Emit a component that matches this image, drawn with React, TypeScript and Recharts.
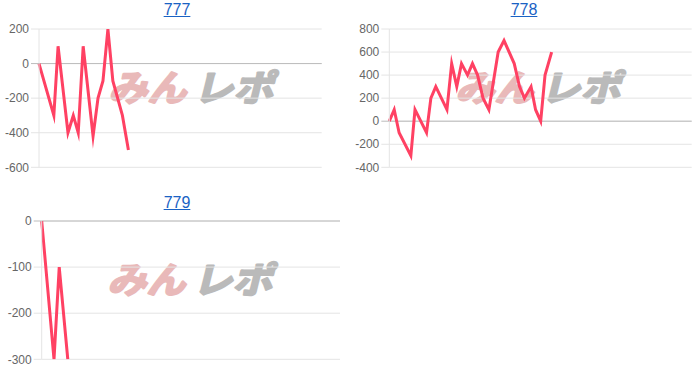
import React from "react";
import { LineChart, Line, XAxis, YAxis, CartesianGrid, ReferenceLine } from "recharts";

// ---- data ----
const titles = ["777", "778", "779"];

const games777 = [0, 420, 540, 820, 970, 1110, 1250, 1530, 1670, 1810, 1950, 2090, 2360, 2530];
const diff777 = [0, -300, 100, -400, -300, -400, 100, -420, -200, -100, 200, -100, -300, -500];

const games778 = [0, 130, 260, 570, 680, 985, 1100, 1230, 1525, 1650, 1785, 1910, 2070, 2200, 2335, 2480, 2635, 2880, 3035, 3305, 3445, 3575, 3750, 3870, 4005, 4120, 4295];
const diff778 = [0, 100, -100, -300, 100, -100, 200, 300, 100, 500, 300, 500, 400, 500, 400, 200, 100, 600, 700, 500, 300, 200, 300, 100, 0, 400, 600];

const games779 = [0, 330, 470, 700];
const diff779 = [0, -300, -100, -300];

const ticks777 = [-600, -400, -200, 0, 200];
const ticks778 = [-400, -200, 0, 200, 400, 600, 800];
const ticks779 = [-300, -200, -100, 0];

const xDomain = [0, 8000];

// ---- styles ----
const LINE = "#ff4163";
const GRID = "#e4e4e4";
const ZERO = "#bcbcbc";
const FONT = "Arial, 'Liberation Sans', sans-serif";

const build = (g: number[], v: number[]) => g.map((x, i) => ({ g: x, v: v[i] }));

const Tick = (props: any) => {
  const { x, y, payload } = props;
  const zero = payload.value === 0;
  return (
    <g>
      <line x1={x + 2} x2={x + 10} y1={y} y2={y} stroke={zero ? ZERO : GRID} />
      <text x={x} y={y} dy="0.35em" textAnchor="end" fontSize={12} fill="#666" fontFamily={FONT}>
        {payload.value}
      </text>
    </g>
  );
};

const Watermark = ({ left, top }: { left: number; top: number }) => (
  <svg
    width={175}
    height={34}
    style={{ position: "absolute", left, top, overflow: "visible" }}
  >
    <g transform="skewX(-14)">
      <text
        x={8}
        y={30}
        fontSize={36}
        fontWeight={700}
        fontFamily="'Noto Sans CJK JP', sans-serif"
        fill="#e9b9b9"
        stroke="#e9b9b9"
        strokeWidth={2.2}
        strokeLinejoin="round"
        textLength={78}
        lengthAdjust="spacingAndGlyphs"
      >
        みん
      </text>
      <text
        x={93}
        y={30}
        fontSize={36}
        fontWeight={700}
        fontFamily="'Noto Sans CJK JP', sans-serif"
        fill="#bababa"
        stroke="#bababa"
        strokeWidth={2.2}
        strokeLinejoin="round"
        textLength={80}
        lengthAdjust="spacingAndGlyphs"
      >
        レポ
      </text>
    </g>
  </svg>
);

const Title = ({ text, cx, top }: { text: string; cx: number; top: number }) => (
  <div
    style={{
      position: "absolute",
      left: cx - 50,
      top,
      width: 100,
      textAlign: "center",
      fontFamily: FONT,
      fontSize: 16,
      lineHeight: "18px",
    }}
  >
    <a href="#" style={{ color: "#1a62c4", textDecoration: "underline" }}>
      {text}
    </a>
  </div>
);

type ChartProps = {
  left: number;
  top: number;
  width: number;
  axisWidth: number;
  marginRight: number;
  data: { g: number; v: number }[];
  ticks: number[];
};

const Chart = ({ left, top, width, axisWidth, marginRight, data, ticks }: ChartProps) => (
  <div style={{ position: "absolute", left, top }}>
    <LineChart
      width={width}
      height={180}
      data={data}
      margin={{ top: 29, right: marginRight, bottom: 12.7, left: 0 }}
    >
      <CartesianGrid vertical={false} stroke={GRID} />
      <XAxis type="number" dataKey="g" domain={xDomain} hide />
      <YAxis
        width={axisWidth}
        domain={[ticks[0], ticks[ticks.length - 1]]}
        ticks={ticks}
        interval={0}
        allowDataOverflow
        axisLine={{ stroke: GRID }}
        tickLine={false}
        tickSize={8}
        tickMargin={2}
        tick={<Tick />}
      />
      <ReferenceLine y={0} stroke={ZERO} />
      <Line
        type="linear"
        dataKey="v"
        stroke={LINE}
        strokeWidth={3}
        strokeLinejoin="miter"
        strokeMiterlimit={10}
        dot={false}
        activeDot={false}
        isAnimationActive={false}
      />
    </LineChart>
  </div>
);

export default function App() {
  return (
    <div
      style={{
        position: "absolute",
        left: 0,
        top: 0,
        width: 700,
        height: 384,
        background: "#fff",
        overflow: "hidden",
      }}
    >
      <Watermark left={108} top={71} />
      <Watermark left={455} top={71} />
      <Watermark left={107} top={263} />

      <Title text={titles[0]} cx={177} top={1} />
      <Title text={titles[1]} cx={524} top={1} />
      <Title text={titles[2]} cx={177} top={194} />

      <Chart left={0} top={0} width={340} axisWidth={39} marginRight={18.3} data={build(games777, diff777)} ticks={ticks777} />
      <Chart left={340} top={0} width={360} axisWidth={49.3} marginRight={8.3} data={build(games778, diff778)} ticks={ticks778} />
      <Chart left={0} top={192} width={350} axisWidth={41.7} marginRight={10} data={build(games779, diff779)} ticks={ticks779} />
    </div>
  );
}
